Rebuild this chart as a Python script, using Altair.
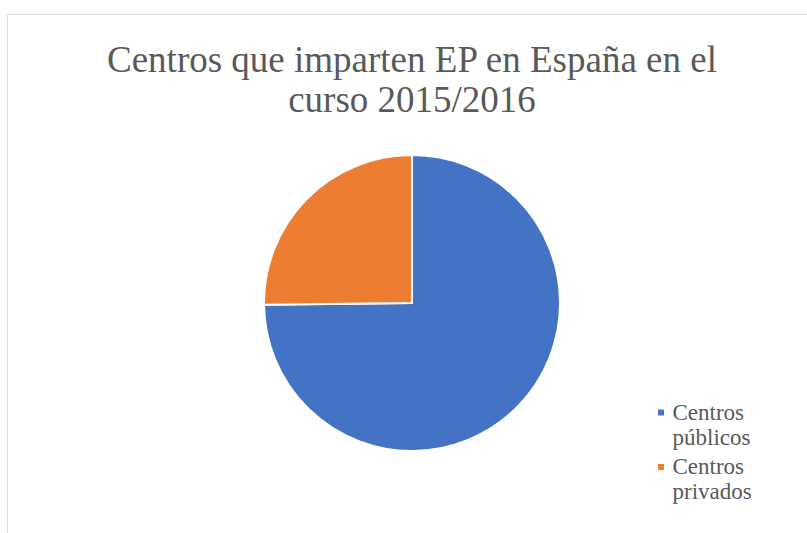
import altair as alt
import pandas as pd

categorias = ["Centros públicos", "Centros privados"]
porcentajes = [74.8, 25.2]
orden = [1, 2]
colores = ["#4472C4", "#ED7D31"]
titulo = ["Centros que imparten EP en España en el", "curso 2015/2016"]

fuente = ("'Liberation Serif', 'Times New Roman', Times, Tinos, 'DejaVu Serif', "
          "'Noto Serif', 'Nimbus Roman', FreeSerif, 'Noto Serif CJK SC', serif")

df = pd.DataFrame({"categoria": categorias, "valor": porcentajes, "orden": orden})

chart = (
    alt.Chart(df)
    .mark_arc(radius=148, stroke="white", strokeWidth=2)
    .encode(
        theta=alt.Theta("valor:Q", stack=True),
        color=alt.Color(
            "categoria:N",
            scale=alt.Scale(domain=categorias, range=colores),
            legend=alt.Legend(
                title=None,
                orient="none",
                legendX=642.5,
                legendY=387,
                symbolType="square",
                symbolSize=36,
                symbolStrokeWidth=0,
                labelFont=fuente,
                labelFontSize=23,
                labelColor="#595959",
                labelBaseline="middle",
                labelOffset=0,
                labelLimit=200,
                labelExpr="split(datum.label, ' ')",
                rowPadding=5.5,
                padding=0,
            ),
        ),
        order=alt.Order("orden:Q"),
        x=alt.value(405),
        y=alt.value(289),
    )
    .properties(
        width=800,
        height=519,
        padding={"left": 7, "top": 14, "right": 0, "bottom": 0},
        autosize=alt.AutoSizeParams(type="none"),
        title=alt.TitleParams(
            text=titulo,
            font=fuente,
            fontSize=37,
            fontWeight="normal",
            color="#595959",
            lineHeight=40,
            anchor="middle",
            baseline="alphabetic",
            offset=-135,
            dx=5,
        ),
    )
    .configure_legend(labelFont=fuente)
    .configure_view(stroke="#D9D9D9", strokeWidth=1)
    .configure(background="white")
)

chart.save("out.html", embed_options={"renderer": "svg", "actions": False})
